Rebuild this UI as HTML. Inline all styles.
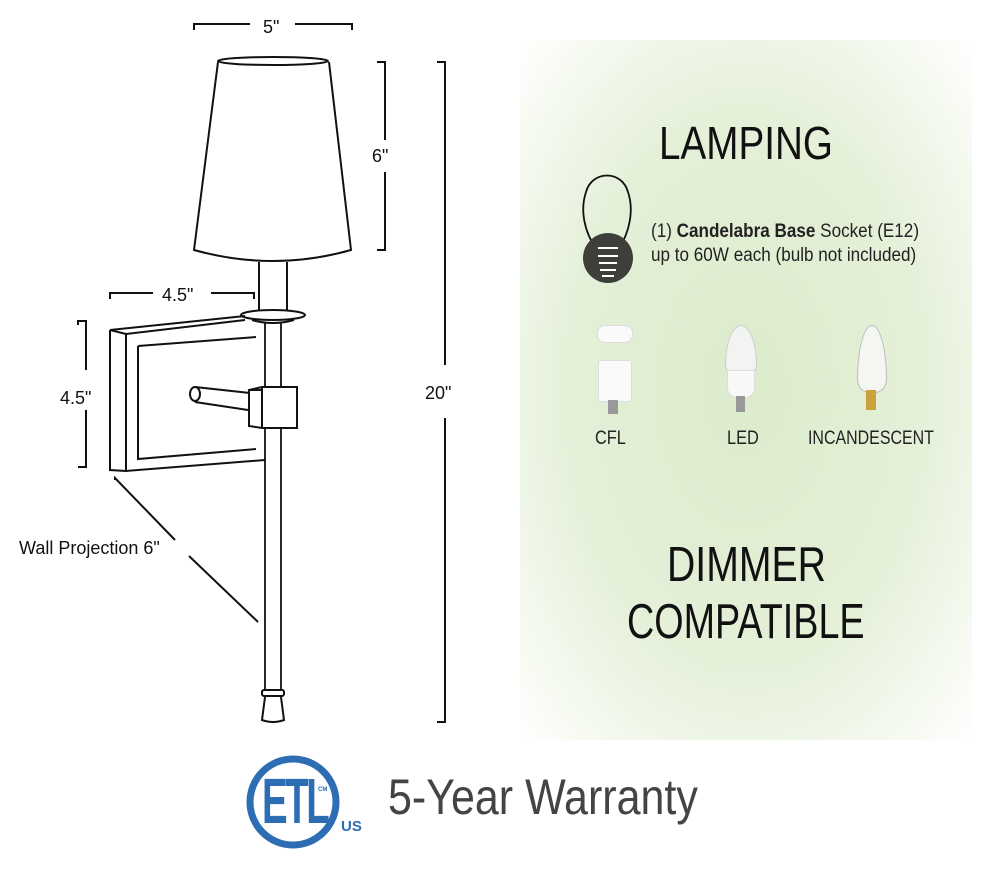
<!DOCTYPE html>
<html><head><style>
body{margin:0;width:990px;height:870px;background:#fff;overflow:hidden;position:relative;font-family:"Liberation Sans",sans-serif}
.n{font-family:"Liberation Sans",sans-serif;position:absolute;white-space:nowrap;color:#111;transform-origin:0 0}
.t{position:absolute;font-size:17px;color:#111;white-space:nowrap}
</style></head><body>
<div style="position:absolute;left:520px;top:40px;width:452px;height:700px;background:radial-gradient(ellipse at 50% 50%,#dcebcc 0%,#e4f0d8 55%,#f6faf1 85%,#ffffff 100%)"></div>
<svg width="990" height="870" style="position:absolute;left:0;top:0" fill="none" stroke="#111" stroke-width="2">
<path d="M194 30V24H250M295 24H352V30"/>
<path d="M377 62H385V140M385 172V250H377"/>
<path d="M437 62H445V365M445 418V722H437"/>
<path d="M110 299V293H153M211 293H254V299"/>
<path d="M78 325V321H86V370M86 410V467H78"/>
<path d="M115 480V478L175 540M189 556L258 622"/>
<path d="M218 62 L194 250 Q273 272 351 250 L329 62" fill="#fff"/>
<ellipse cx="273" cy="61" rx="55" ry="4" fill="#fff"/>
<path d="M259 262V312M287 262V312"/>
<ellipse cx="273" cy="315" rx="32" ry="5" fill="#fff"/>
<path d="M252 320Q273 326 294 320"/>
<path d="M265 323V690M281 323V690" stroke-width="1.8"/>
<path d="M110 330L245 316M110 330V470L126 471L265 460M126 334V471M110 330L126 334L245 320"/>
<path d="M138 346L256 337M138 346V459L256 449"/>
<ellipse cx="195" cy="394" rx="5" ry="7"/>
<path d="M195 387L250 393M195 402L248 410"/>
<path d="M249 390L262 387H297V428H262L249 426Z" fill="#fff"/>
<path d="M262 387V428M249 390H262"/>
<rect x="262" y="690" width="22" height="6" rx="2" fill="#fff"/>
<path d="M265 697L262 720Q273 724 284 720L281 697"/>
<path d="M597 250C584 232 580 210 586 192C592 170 622 170 628 192C634 210 630 232 618 250" stroke-width="1.8"/>
<circle cx="608" cy="258" r="25" fill="#3e3e3a" stroke="none"/>
<path d="M598 248H618M598 256H618M599 263H617M600 270H616M602 276H614" stroke="#fff" stroke-width="2"/>
<circle cx="293" cy="802" r="43" stroke="#2c6db4" stroke-width="7"/>
</svg>
<div class="t" style="left:263px;top:17px;font-size:18px">5"</div>
<div class="t" style="left:372px;top:146px;font-size:18px">6"</div>
<div class="t" style="left:425px;top:383px;font-size:18px">20"</div>
<div class="t" style="left:162px;top:285px;font-size:18px">4.5"</div>
<div class="t" style="left:60px;top:388px;font-size:18px">4.5"</div>
<div class="t" style="left:19px;top:538px;font-size:18px">Wall Projection 6"</div>
<div class="n" style="left:659px;top:116px;font-size:46px;transform:scaleX(0.84)">LAMPING</div>
<div class="n" style="left:651px;top:220px;font-size:19px;color:#222;line-height:24px;transform:scaleX(0.9)">(1) <b>Candelabra Base</b> Socket (E12)<br>up to 60W each (bulb not included)</div>
<div style="position:absolute;left:597px;top:325px;width:34px;height:16px;border-radius:8px;background:#fafafa;border:1px solid #ddd"></div>
<div style="position:absolute;left:598px;top:360px;width:32px;height:40px;border-radius:3px;background:#fafafa;border:1px solid #ddd"></div>
<div style="position:absolute;left:608px;top:400px;width:10px;height:14px;background:#999"></div>
<div style="position:absolute;left:725px;top:325px;width:30px;height:48px;border-radius:50% 50% 30% 30%/80% 80% 20% 20%;background:#f2f4f2;border:1px solid #ccc"></div>
<div style="position:absolute;left:727px;top:370px;width:26px;height:26px;border-radius:0 0 10px 10px;background:#f8f8f8;border:1px solid #ddd"></div>
<div style="position:absolute;left:736px;top:396px;width:9px;height:16px;background:#999"></div>
<div style="position:absolute;left:857px;top:325px;width:28px;height:66px;border-radius:50% 50% 40% 40%/80% 80% 20% 20%;background:#f4f6f2;border:1px solid #bbb"></div>
<div style="position:absolute;left:866px;top:390px;width:10px;height:20px;background:#c9a33a"></div>
<div class="n" style="left:595px;top:428px;font-size:19px;color:#222;transform:scaleX(0.86)">CFL</div>
<div class="n" style="left:727px;top:428px;font-size:19px;color:#222;transform:scaleX(0.86)">LED</div>
<div class="n" style="left:808px;top:428px;font-size:19px;color:#222;transform:scaleX(0.84)">INCANDESCENT</div>
<div class="n" style="left:667px;top:537px;font-size:49px;transform:scaleX(0.8)">DIMMER</div>
<div class="n" style="left:627px;top:594px;font-size:49px;transform:scaleX(0.77)">COMPATIBLE</div>
<div style="position:absolute;left:262px;top:764px;font:bold 64px 'Liberation Sans',sans-serif;color:#2c6db4;letter-spacing:-4px;transform:scaleX(0.6);transform-origin:0 0">ETL</div>
<div style="position:absolute;left:318px;top:787px;font:bold 6px 'Liberation Sans',sans-serif;color:#2c6db4">CM</div>
<div style="position:absolute;left:341px;top:818px;font:bold 15px 'Liberation Sans',sans-serif;color:#2c6db4">US</div>
<div class="n" style="left:388px;top:768px;font-size:50px;color:#444;transform:scaleX(0.86)">5-Year Warranty</div>
</body></html>
